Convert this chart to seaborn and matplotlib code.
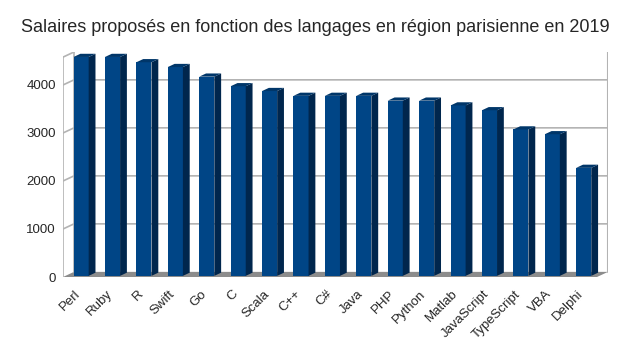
import pandas as pd
import matplotlib
matplotlib.use("Agg")
import matplotlib.pyplot as plt
from matplotlib.patches import Polygon
import seaborn as sns

langages = ["Perl", "Ruby", "R", "Swift", "Go", "C", "Scala", "C++", "C#", "Java",
            "PHP", "Python", "Matlab", "JavaScript", "TypeScript", "VBA", "Delphi"]
salaires = [4560, 4560, 4450, 4350, 4150, 3950, 3850, 3750, 3750, 3750,
            3650, 3650, 3550, 3450, 3050, 2950, 2250]
yticks = [0, 1000, 2000, 3000, 4000]
titre = "Salaires proposés en fonction des langages en région parisienne en 2019"

sns.set_style("white")
plt.rcParams["font.family"] = ["Liberation Sans", "DejaVu Sans"]

df = pd.DataFrame({"langage": langages, "salaire": salaires})

fig = plt.figure(figsize=(6.3, 3.55), dpi=100)
ax = fig.add_axes([63 / 630, 78 / 355, 545 / 630, 225 / 355])

n = len(langages)
top = 4580          # top of the walls
DX, DY = 0.35, 107  # depth of the 3D box, in data units
grid_c = "#b3b3b3"

# floor and walls
ax.add_patch(Polygon([(-0.5, 0), (n - 0.5, 0), (n - 0.5 + DX, DY), (-0.5 + DX, DY)],
                     closed=True, fc="#8c8c8c", ec="none", zorder=1))
for v in yticks[1:]:
    ax.plot([-0.5, -0.5 + DX, n - 0.5 + DX], [v, v + DY, v + DY], color=grid_c, lw=1.2, zorder=1)
ax.plot([-0.5, -0.5 + DX], [top, top + DY], color=grid_c, lw=1.2, zorder=1)
ax.plot([-0.5, -0.5], [0, top], color=grid_c, lw=1.2, zorder=1)
ax.plot([-0.5 + DX, -0.5 + DX], [DY, top + DY], color=grid_c, lw=1.2, zorder=1)
ax.plot([n - 0.5 + DX, n - 0.5 + DX], [DY, top + DY], color=grid_c, lw=1.5, zorder=1)

# front faces of the bars
sns.barplot(data=df, x="langage", y="salaire", color="#004586", saturation=1,
            width=0.48, ax=ax, zorder=3)

f0, bd = 0.22, 0.62  # where the bars start in depth, and how deep they are
for p in list(ax.patches):
    if not isinstance(p, matplotlib.patches.Rectangle):
        continue
    x, w, h = p.get_x(), p.get_width(), p.get_height()
    x += f0 * DX
    y0 = f0 * DY
    p.set_x(x)
    p.set_y(y0)
    p.set_edgecolor("none")
    side = [(x + w, y0), (x + w + bd * DX, y0 + bd * DY),
            (x + w + bd * DX, y0 + bd * DY + h), (x + w, y0 + h)]
    cap = [(x, y0 + h), (x + w, y0 + h),
           (x + w + bd * DX, y0 + h + bd * DY), (x + bd * DX, y0 + h + bd * DY)]
    ax.add_patch(Polygon(side, closed=True, fc="#00264d", ec="none", zorder=3))
    ax.add_patch(Polygon(cap, closed=True, fc="#003669", ec="none", zorder=3))

ax.set_xlim(-0.5, n - 0.5 + DX)
ax.set_ylim(0, top + DY)
sns.despine(ax=ax, left=True, bottom=True)
ax.set_xlabel("")
ax.set_ylabel("")
ax.set_yticks(yticks)
ax.set_yticklabels([str(v) for v in yticks])
ax.set_xticks(range(n))
ax.set_xticklabels(langages, rotation=45, ha="right", va="center", rotation_mode="anchor")
ax.tick_params(axis="y", length=0, pad=5, labelsize=9.5)
ax.tick_params(axis="x", length=0, pad=11, labelsize=9.5)

fig.text(0.5, 1 - 28 / 355, titre, ha="center", va="center", fontsize=13)

fig.savefig("out.png", dpi=100)
